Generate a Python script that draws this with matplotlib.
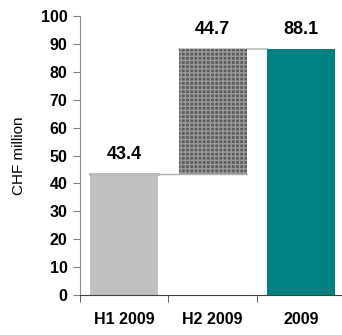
import matplotlib
matplotlib.use("Agg")
from matplotlib import pyplot as plt
import numpy as np

plt.rcParams['font.family'] = ['Liberation Sans', 'DejaVu Sans']
plt.rcParams['hatch.linewidth'] = 1.0

categories = ["H1 2009", "H2 2009", "2009"]
values = [43.4, 44.7, 88.1]
labels = ["43.4", "44.7", "88.1"]

fig = plt.figure(figsize=(3.42, 3.35), dpi=100)
ax = fig.add_axes([80 / 342, 40 / 335, 265.5 / 342, 279 / 335])

x = np.arange(len(categories))
w = 0.77

# waterfall: first bar, increment floating on top of it, total
bottoms = [0, values[0], 0]
colors = ["#c0c0c0", "#5c5c5c", "#008080"]
bars = ax.bar(x, values, w, bottom=bottoms, color=colors, linewidth=0, zorder=2)
bars[1].set_hatch("++++")
bars[1].set_edgecolor("#9a9a9a")

# connector lines
ax.plot([x[0] - w / 2, x[1] + w / 2], [values[0], values[0]], color="#b0b0b0", lw=1, zorder=3)
ax.plot([x[0] - w / 2, x[0] + w / 2], [values[0], values[0]], color="#b8b8b8", lw=2, zorder=3)
ax.plot([x[1] - w / 2, x[2] - w / 2], [values[2], values[2]], color="#c8c8c8", lw=1.5, zorder=1)

tops = [values[0], values[0] + values[1], values[2]]
for xi, t, lab in zip(x, tops, labels):
    ax.text(xi, t + 4.0, lab, ha="center", va="bottom", fontsize=13, fontweight="bold")

ax.set_xlim(-0.5, 2.5)
ax.set_ylim(0, 100)
ax.set_yticks(np.arange(0, 101, 10))
ax.set_xticks(x)
ax.set_xticklabels(categories, fontweight="bold", fontsize=11.5)
ax.set_xticks([-0.5, 0.5, 1.5, 2.5], minor=True)
ax.tick_params(axis="x", which="major", length=0, pad=12)
ax.tick_params(axis="x", which="minor", length=5, color="#404040", direction="out")
ax.tick_params(axis="y", length=5, color="#808080", labelsize=11.5, pad=4)
for t in ax.get_yticklabels():
    t.set_fontweight("bold")

for s in ["top", "right"]:
    ax.spines[s].set_visible(False)
ax.spines["left"].set_color("#909090")
ax.spines["bottom"].set_color("#404040")

ax.set_ylabel("CHF million", fontsize=11)
ax.yaxis.set_label_coords(-0.205, 0.5)

plt.savefig("out.png", dpi=100)
plt.close()
